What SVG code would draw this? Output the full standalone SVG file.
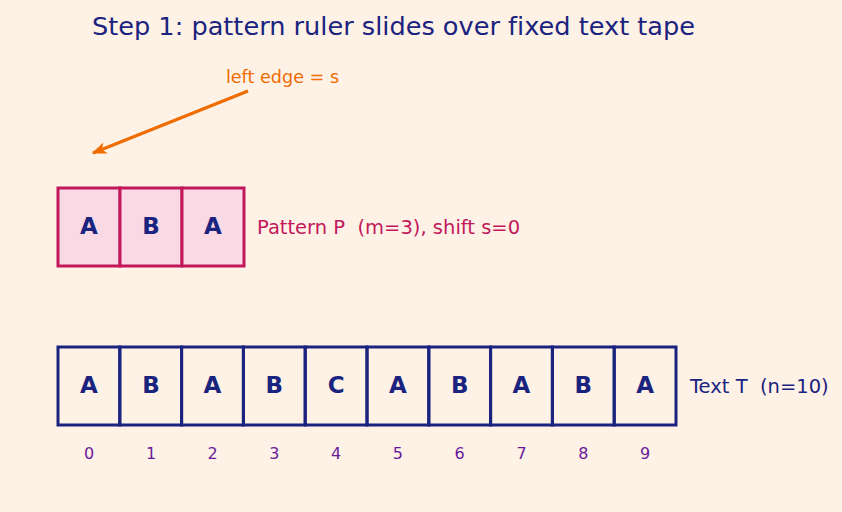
<svg xmlns="http://www.w3.org/2000/svg" width="842" height="512" viewBox="0 0 842 512">
<defs>
<style>
text{white-space:pre;font-variant-ligatures:none;font-family:"DejaVu Sans",sans-serif}
.bg{fill:#fef1e6}
.pc{fill:#f8d9e4;stroke:#c2185b;stroke-width:3}
.tc{fill:none;stroke:#1a237e;stroke-width:3}
.ch{font-weight:bold;font-size:23px;fill:#1a237e;text-anchor:middle;dominant-baseline:central}
.ix{font-size:16px;fill:#6a1b9a;text-anchor:middle;dominant-baseline:central}
.lbl{font-size:19.5px;dominant-baseline:central}
</style>
<marker id="ah" viewBox="0 0 10 10" refX="9" refY="5" markerWidth="5" markerHeight="5" orient="auto" markerUnits="strokeWidth">
<path d="M0,1 L10,5 L0,9 L2.5,5 z" fill="#ef6c00"/>
</marker>
</defs>
<rect class="bg" x="0" y="0" width="842" height="512"/>
<text x="393.5" y="26" font-size="25.6" fill="#1a237e" text-anchor="middle" dominant-baseline="central">Step 1: pattern ruler slides over fixed text tape</text>
<text x="282.5" y="77" font-size="17.6" fill="#ef6c00" text-anchor="middle" dominant-baseline="central">left edge = s</text>
<g id="connectors">
<line x1="248" y1="91" x2="93" y2="153" stroke="#ef6c00" stroke-width="3" marker-end="url(#ah)"/>
</g>
<g id="pattern">
<rect class="pc" x="58" y="188" width="62" height="78"/>
<rect class="pc" x="120" y="188" width="62" height="78"/>
<rect class="pc" x="182" y="188" width="62" height="78"/>
<text class="ch" x="89" y="226">A</text>
<text class="ch" x="151" y="226">B</text>
<text class="ch" x="213" y="226">A</text>
<text class="lbl" x="257" y="227" fill="#c2185b">Pattern P  (m=3), shift s=0</text>
</g>
<g id="text">
<rect class="tc" x="58" y="347" width="61.8" height="78"/>
<rect class="tc" x="119.8" y="347" width="61.8" height="78"/>
<rect class="tc" x="181.6" y="347" width="61.8" height="78"/>
<rect class="tc" x="243.4" y="347" width="61.8" height="78"/>
<rect class="tc" x="305.2" y="347" width="61.8" height="78"/>
<rect class="tc" x="367" y="347" width="61.8" height="78"/>
<rect class="tc" x="428.8" y="347" width="61.8" height="78"/>
<rect class="tc" x="490.6" y="347" width="61.8" height="78"/>
<rect class="tc" x="552.4" y="347" width="61.8" height="78"/>
<rect class="tc" x="614.2" y="347" width="61.8" height="78"/>
<text class="ch" x="89" y="385">A</text>
<text class="ch" x="151" y="385">B</text>
<text class="ch" x="212.5" y="385">A</text>
<text class="ch" x="274.3" y="385">B</text>
<text class="ch" x="336.1" y="385">C</text>
<text class="ch" x="397.9" y="385">A</text>
<text class="ch" x="459.7" y="385">B</text>
<text class="ch" x="521.5" y="385">A</text>
<text class="ch" x="583.3" y="385">B</text>
<text class="ch" x="645.1" y="385">A</text>
<text class="ix" x="89" y="453">0</text>
<text class="ix" x="151" y="453">1</text>
<text class="ix" x="212.5" y="453">2</text>
<text class="ix" x="274.3" y="453">3</text>
<text class="ix" x="336.1" y="453">4</text>
<text class="ix" x="397.9" y="453">5</text>
<text class="ix" x="459.7" y="453">6</text>
<text class="ix" x="521.5" y="453">7</text>
<text class="ix" x="583.3" y="453">8</text>
<text class="ix" x="645.1" y="453">9</text>
<text class="lbl" x="690" y="386" fill="#1a237e">Text T  (n=10)</text>
</g>
</svg>
